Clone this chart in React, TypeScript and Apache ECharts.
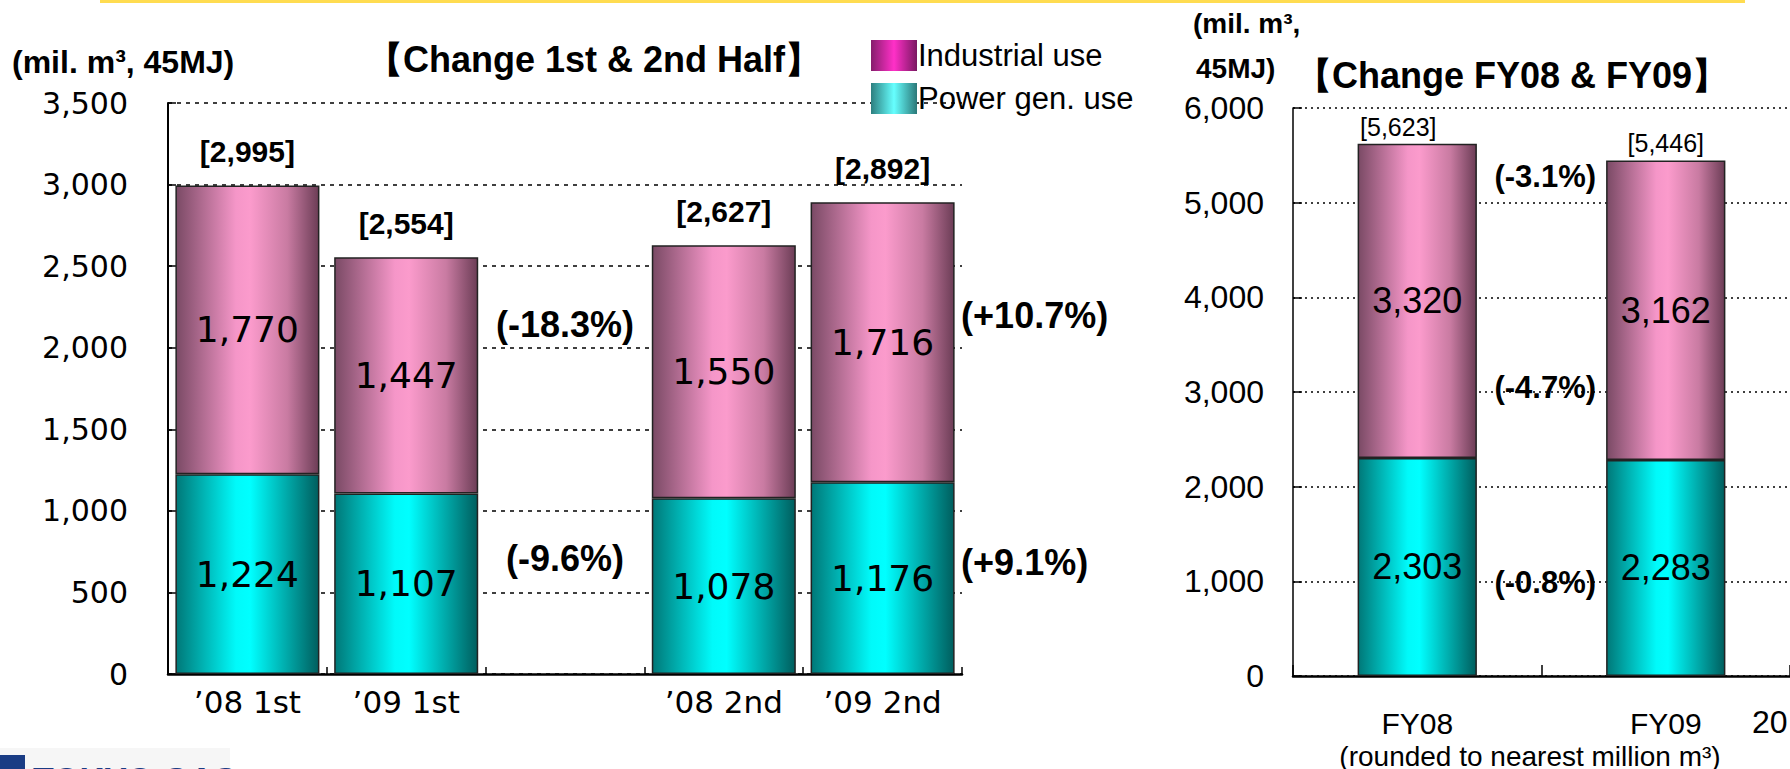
import React, { useEffect, useRef } from "react";
import * as echarts from "echarts";

// ---- Left chart: change 1st & 2nd half ----
const halfCategories = ["’08 1st", "’09 1st", "", "’08 2nd", "’09 2nd"];
const halfIndustrial: (number | string)[] = [1770, 1447, "-", 1550, 1716];
const halfPower: (number | string)[] = [1224, 1107, "-", 1078, 1176];
const halfTotals: (number | string)[] = [2995, 2554, "-", 2627, 2892];
const halfChangeCat = [2, 2, 4, 4];
const halfChangeVal = [2145, 705, 2200, 686];
const halfChangeText = ["(-18.3%)", "(-9.6%)", "(+10.7%)", "(+9.1%)"];

// ---- Right chart: change FY08 & FY09 ----
const fyCategories = ["FY08", "FY09"];
const fyIndustrial: number[] = [3320, 3162];
const fyPower: number[] = [2303, 2283];
const fyTotals: number[] = [5623, 5446];
const fyChangeCat = [0, 0, 0];
const fyChangeVal = [5275, 3044, 983];
const fyChangeText = ["(-3.1%)", "(-4.7%)", "(-0.8%)"];

const leftTicks = { min: 0, max: 3500, interval: 500 };
const rightTicks = { min: 0, max: 6000, interval: 1000 };

const fmt = (v: any) => (typeof v === "number" ? v.toLocaleString("en-US") : String(v));

const ARIAL = "'Liberation Sans', Arial, sans-serif";
const WIDE = "'DejaVu Sans', Verdana, sans-serif";
const CLEAR = "rgba(0,0,0,0)";

export default function App() {
  const ref = useRef<HTMLDivElement>(null);
  useEffect(() => {
    if (!ref.current) return;
    const chart = echarts.init(ref.current, null, { renderer: "svg" });
    const G = echarts.graphic.LinearGradient;
    const pinkGrad = () =>
      new G(0, 0, 1, 0, [
        { offset: 0, color: "#7a4a65" },
        { offset: 0.42, color: "#f596c8" },
        { offset: 0.52, color: "#fb9bcc" },
        { offset: 0.78, color: "#c97ba2" },
        { offset: 1, color: "#6c3d56" },
      ]);
    const cyanGrad = () =>
      new G(0, 0, 1, 0, [
        { offset: 0, color: "#007878" },
        { offset: 0.42, color: "#00fafa" },
        { offset: 0.52, color: "#00ffff" },
        { offset: 0.78, color: "#00a8a8" },
        { offset: 1, color: "#005e5e" },
      ]);
    const legendPink = new G(0, 0, 1, 0, [
      { offset: 0, color: "#861d6c" },
      { offset: 0.5, color: "#ff30c8" },
      { offset: 1, color: "#7a1862" },
    ]);
    const legendCyan = new G(0, 0, 1, 0, [
      { offset: 0, color: "#2d7f7f" },
      { offset: 0.5, color: "#66ffff" },
      { offset: 1, color: "#2b7878" },
    ]);

    const barSeries = (
      name: string,
      data: any[],
      color: any,
      gridIdx: number,
      font: string,
      size: number
    ) => ({
      name,
      type: "bar",
      stack: "s" + gridIdx,
      xAxisIndex: gridIdx,
      yAxisIndex: gridIdx,
      data,
      barCategoryGap: gridIdx === 0 ? "9.3%" : "52%",
      itemStyle: { color, borderColor: "#222", borderWidth: 1.5 },
      label: {
        show: true,
        position: "inside",
        color: "#000",
        fontFamily: font,
        fontSize: size,
        formatter: (p: any) => fmt(p.value),
      },
      emphasis: { disabled: true },
    });

    const hidden = {
      symbolSize: 1,
      itemStyle: { color: CLEAR, opacity: 1 },
      silent: true,
      emphasis: { disabled: true },
    };

    const option: any = {
      animation: false,
      backgroundColor: "#fff",
      legend: {
        orient: "vertical",
        left: 866,
        top: 35,
        itemWidth: 46,
        itemHeight: 31,
        itemGap: 12,
        icon: "rect",
        selectedMode: false,
        textStyle: { fontFamily: ARIAL, fontSize: 31, color: "#000", padding: [0, 0, 0, -4] },
        data: [
          { name: "Industrial use", itemStyle: { color: legendPink, borderWidth: 0 } },
          { name: "Power gen. use", itemStyle: { color: legendCyan, borderWidth: 0 } },
        ],
      },
      grid: [
        { left: 168, top: 103, width: 794, bottom: 95, containLabel: false },
        { left: 1293, top: 108, right: -12, bottom: 93, containLabel: false },
      ],
      xAxis: [
        {
          type: "category",
          gridIndex: 0,
          data: halfCategories,
          axisLine: { lineStyle: { color: "#000", width: 2.5 } },
          axisTick: { show: true, inside: true, length: 7, lineStyle: { color: "#000", width: 1.5 } },
          axisLabel: { fontFamily: WIDE, fontSize: 31, color: "#000", margin: 12, interval: 0 },
        },
        {
          type: "category",
          gridIndex: 1,
          data: fyCategories,
          axisLine: { lineStyle: { color: "#000", width: 2.5 } },
          axisTick: { show: true, inside: true, length: 11, lineStyle: { color: "#000", width: 1.5 } },
          axisLabel: { fontFamily: ARIAL, fontSize: 30, color: "#000", margin: 32, interval: 0 },
        },
      ],
      yAxis: [
        {
          type: "value",
          gridIndex: 0,
          ...leftTicks,
          axisLine: { show: true, lineStyle: { color: "#000", width: 2 } },
          axisTick: { show: true, inside: true, length: 8, lineStyle: { color: "#000", width: 1.5 } },
          splitLine: { show: true, lineStyle: { color: "#000", type: [4, 5], width: 1.5 } },
          axisLabel: { fontFamily: WIDE, fontSize: 30, color: "#000", margin: 40, formatter: fmt },
        },
        {
          type: "value",
          gridIndex: 1,
          ...rightTicks,
          axisLine: { show: true, lineStyle: { color: "#000", width: 1.5 } },
          axisTick: { show: true, inside: true, length: 9, lineStyle: { color: "#000", width: 1.5 } },
          splitLine: { show: true, lineStyle: { color: "#000", type: [2, 4], width: 1.5 } },
          axisLabel: { fontFamily: ARIAL, fontSize: 32, color: "#000", margin: 29, formatter: fmt },
        },
      ],
      series: [
        barSeries("Power gen. use", halfPower, cyanGrad(), 0, WIDE, 36),
        barSeries("Industrial use", halfIndustrial, pinkGrad(), 0, WIDE, 36),
        barSeries("Power gen. use", fyPower, cyanGrad(), 1, ARIAL, 36),
        barSeries("Industrial use", fyIndustrial, pinkGrad(), 1, ARIAL, 36),
        {
          name: "totals-half",
          type: "scatter",
          xAxisIndex: 0,
          yAxisIndex: 0,
          data: halfTotals,
          ...hidden,
          label: {
            show: true,
            position: "top",
            distance: 18,
            color: "#000",
            fontFamily: ARIAL,
            fontWeight: "bold",
            fontSize: 30,
            formatter: (p: any) => "[" + fmt(p.value) + "]",
          },
        },
        {
          name: "totals-fy",
          type: "scatter",
          xAxisIndex: 1,
          yAxisIndex: 1,
          data: fyTotals.map((v, i) => ({
            value: v,
            label: i === 0 ? { offset: [-19, 0] } : {},
          })),
          ...hidden,
          label: {
            show: true,
            position: "top",
            distance: 4,
            color: "#000",
            fontFamily: ARIAL,
            fontSize: 25,
            formatter: (p: any) => "[" + fmt(p.value) + "]",
          },
        },
        {
          name: "change-half",
          type: "scatter",
          xAxisIndex: 0,
          yAxisIndex: 0,
          ...hidden,
          data: halfChangeCat.map((c, i) => ({
            value: [c, halfChangeVal[i]],
            name: halfChangeText[i],
            label:
              c === 4
                ? { position: "right", distance: 78, align: "left" }
                : { position: "inside" },
          })),
          label: {
            show: true,
            color: "#000",
            fontFamily: ARIAL,
            fontWeight: "bold",
            fontSize: 36,
            formatter: (p: any) => p.name,
          },
        },
        {
          name: "change-fy",
          type: "scatter",
          xAxisIndex: 1,
          yAxisIndex: 1,
          ...hidden,
          data: fyChangeCat.map((c, i) => ({
            value: [c, fyChangeVal[i]],
            name: fyChangeText[i],
          })),
          label: {
            show: true,
            position: "inside",
            offset: [128, 0],
            color: "#000",
            fontFamily: ARIAL,
            fontWeight: "bold",
            fontSize: 31,
            formatter: (p: any) => p.name,
          },
        },
      ],
      graphic: [
        {
          type: "line",
          shape: { x1: 100, y1: 1.5, x2: 1745, y2: 1.5 },
          style: { stroke: "#ffdc50", lineWidth: 3 },
        },
        {
          type: "text",
          x: 12,
          y: 62,
          style: {
            text: "(mil. m³, 45MJ)",
            fontFamily: ARIAL,
            fontWeight: "bold",
            fontSize: 32,
            fill: "#000",
            verticalAlign: "middle",
          },
        },
        {
          type: "text",
          x: 594,
          y: 59,
          style: {
            text: "【Change 1st & 2nd Half】",
            fontFamily: ARIAL,
            fontWeight: "bold",
            fontSize: 36,
            fill: "#000",
            align: "center",
            verticalAlign: "middle",
          },
        },
        {
          type: "text",
          x: 1193,
          y: 23,
          style: {
            text: "(mil. m³,",
            fontFamily: ARIAL,
            fontWeight: "bold",
            fontSize: 28,
            fill: "#000",
            verticalAlign: "middle",
          },
        },
        {
          type: "text",
          x: 1196,
          y: 68,
          style: {
            text: "45MJ)",
            fontFamily: ARIAL,
            fontWeight: "bold",
            fontSize: 28,
            fill: "#000",
            verticalAlign: "middle",
          },
        },
        {
          type: "text",
          x: 1512,
          y: 75,
          style: {
            text: "【Change FY08 & FY09】",
            fontFamily: ARIAL,
            fontWeight: "bold",
            fontSize: 36,
            fill: "#000",
            align: "center",
            verticalAlign: "middle",
          },
        },
        {
          type: "text",
          x: 1530,
          y: 756,
          style: {
            text: "(rounded to nearest million m³)",
            fontFamily: ARIAL,
            fontSize: 28,
            fill: "#000",
            align: "center",
            verticalAlign: "middle",
          },
        },
        {
          type: "text",
          x: 1752,
          y: 722,
          style: { text: "20", fontFamily: ARIAL, fontSize: 32, fill: "#000", verticalAlign: "middle" },
        },
        {
          type: "rect",
          shape: { x: 0, y: 748, width: 230, height: 21 },
          style: { fill: "#f6f6f6" },
        },
        {
          type: "rect",
          shape: { x: 0, y: 755, width: 25, height: 14 },
          style: { fill: "#1a3c84" },
        },
        {
          type: "text",
          x: 33,
          y: 762,
          style: {
            text: "TOKYO GAS",
            fontFamily: ARIAL,
            fontWeight: "bold",
            fontSize: 34,
            fill: "#1a3c84",
            verticalAlign: "top",
          },
        },
      ],
    };
    chart.setOption(option);
    return () => chart.dispose();
  }, []);
  return (
    <div
      ref={ref}
      style={{ position: "absolute", left: 0, top: 0, width: 1790, height: 769, background: "#fff" }}
    />
  );
}
